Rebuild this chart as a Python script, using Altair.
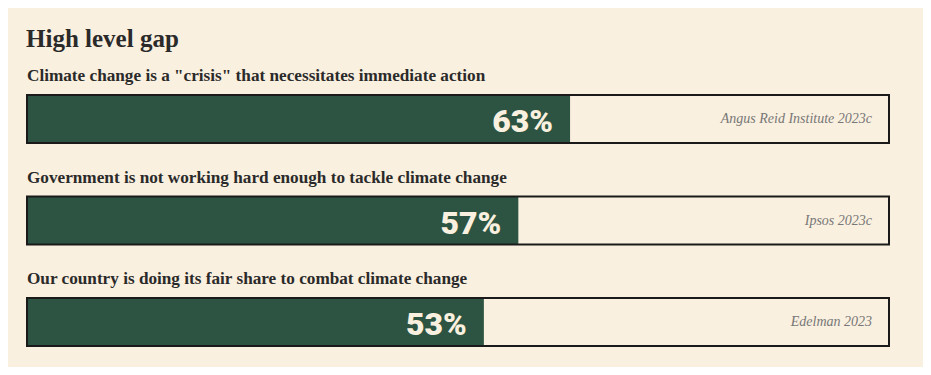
import altair as alt
import pandas as pd

questions = [
    'Climate change is a "crisis" that necessitates immediate action',
    'Government is not working hard enough to tackle climate change',
    'Our country is doing its fair share to combat climate change',
]
values = [63, 57, 53]
sources = ["Angus Reid Institute 2023c", "Ipsos 2023c", "Edelman 2023"]

BG = "#FAF0DF"
GREEN = "#2D5442"
INK = "#2A2A2A"

df = pd.DataFrame({
    "q": questions,
    "v": values,
    "src": sources,
    "pct": [f"{v}%" for v in values],
    "full": [100] * len(values),
    "zero": [0] * len(values),
})

xs = alt.Scale(domain=[0, 100], range=[0, 862])
ys = alt.Scale(domain=questions, range=[35, 286], paddingInner=0.527, paddingOuter=0)

base = alt.Chart(df)
y = alt.Y("q:N", scale=ys, axis=None, sort=questions)

bg_bar = base.mark_bar(fill=BG, stroke=None).encode(
    x=alt.X("zero:Q", scale=xs, axis=None), x2="full:Q", y=y)
fill_bar = base.mark_bar(fill=GREEN, stroke=None).encode(
    x=alt.X("zero:Q", scale=xs, axis=None), x2="v:Q", y=y)
outline = base.mark_bar(fill=None, stroke="#1A1A1A", strokeWidth=2).encode(
    x=alt.X("zero:Q", scale=xs, axis=None), x2="full:Q", y=y)

q_text = base.mark_text(align="left", baseline="alphabetic", dy=-38,
                        font="Liberation Serif", fontWeight="bold",
                        fontSize=17.2, color=INK).encode(
    x=alt.X("zero:Q", scale=xs, axis=None), y=y, text="q:N")
pct_text = base.mark_text(align="right", baseline="alphabetic", dx=-17, dy=13,
                          font="Roboto", fontWeight=900, fontSize=32,
                          color=BG).encode(
    x=alt.X("v:Q", scale=xs, axis=None), y=y, text="pct:N")
src_text = base.mark_text(align="right", baseline="alphabetic", dx=-17, dy=4,
                          font="Liberation Serif", fontStyle="italic",
                          fontSize=14, color="#777777").encode(
    x=alt.X("full:Q", scale=xs, axis=None), y=y, text="src:N")

chart = alt.layer(bg_bar, fill_bar, outline, q_text, pct_text, src_text).properties(
    width=862,
    height=307,
    background=BG,
    padding={"left": 19, "top": 52, "right": 34, "bottom": 0},
    autosize=alt.AutoSizeParams(type="none"),
    title=alt.TitleParams("High level gap", anchor="start", baseline="alphabetic",
                          offset=14, dy=26, font="Liberation Serif", fontWeight="bold",
                          fontSize=25, color=INK),
).configure_view(stroke=None)

chart.save("out.html", embed_options={"renderer": "svg", "actions": False})
